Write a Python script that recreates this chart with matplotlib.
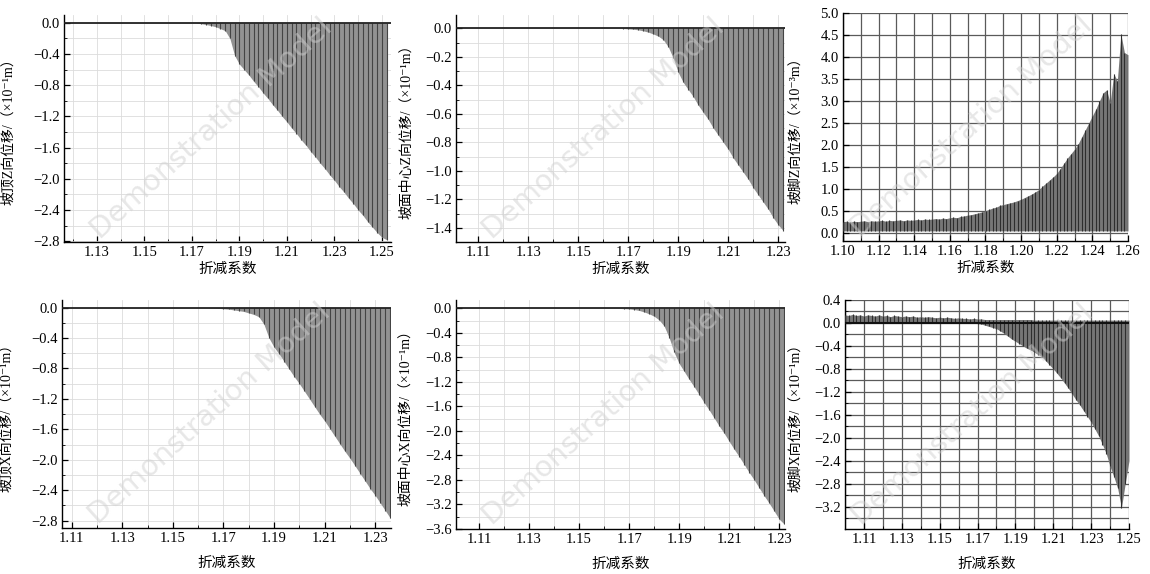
import numpy as np
import matplotlib.pyplot as plt
from matplotlib.ticker import MultipleLocator, FixedLocator, FuncFormatter

plt.rcParams['font.family'] = ['Liberation Serif', 'Noto Sans CJK SC', 'DejaVu Sans']

W, H = 1150, 574

# 坡顶Z向位移 (top left), spikes every 0.002 from 1.172
x1_rng = (1.172, 1.252)
y1 = [-0.005, -0.012, -0.022, -0.035, -0.05, -0.075, -0.10, -0.20, -0.42, -0.53,
      -0.60, -0.67, -0.75, -0.82, -0.90, -0.97, -1.05, -1.12, -1.20, -1.27,
      -1.35, -1.42, -1.50, -1.57, -1.65, -1.72, -1.80, -1.87, -1.95, -2.02,
      -2.10, -2.17, -2.25, -2.32, -2.40, -2.47, -2.55, -2.62, -2.69, -2.75, -2.78]
xt1 = [1.13, 1.15, 1.17, 1.19, 1.21, 1.23, 1.25]

# 坡面中心Z向位移 (top middle)
x2_rng = (1.168, 1.232)
y2 = [-0.002, -0.004, -0.007, -0.011, -0.018, -0.027, -0.04, -0.055, -0.08, -0.13,
      -0.21, -0.31, -0.38, -0.43, -0.48, -0.54, -0.59, -0.64, -0.70, -0.75,
      -0.80, -0.85, -0.91, -0.96, -1.01, -1.06, -1.12, -1.17, -1.22, -1.27,
      -1.33, -1.38, -1.42]
xt2 = [1.11, 1.13, 1.15, 1.17, 1.19, 1.21, 1.23]

# 坡脚Z向位移 (top right): upper ends of the oscillation
x3_rng = (1.100, 1.260)
y3 = [0.25, 0.26, 0.24, 0.26, 0.25, 0.26, 0.27, 0.25, 0.27, 0.26,
      0.27, 0.28, 0.26, 0.28, 0.27, 0.28, 0.29, 0.27, 0.29, 0.28,
      0.29, 0.30, 0.29, 0.31, 0.30, 0.31, 0.32, 0.31, 0.33, 0.32,
      0.34, 0.35, 0.34, 0.37, 0.38, 0.40, 0.41, 0.43, 0.45, 0.47,
      0.50, 0.53, 0.56, 0.58, 0.62, 0.64, 0.66, 0.68, 0.70, 0.73,
      0.76, 0.80, 0.84, 0.88, 0.93, 0.98, 1.06, 1.13, 1.20, 1.27,
      1.35, 1.46, 1.58, 1.70, 1.80, 1.90, 2.02, 2.18, 2.34, 2.50,
      2.66, 2.82, 3.00, 3.18, 3.25, 2.95, 3.62, 3.45, 4.52, 4.10,
      4.05]
base3 = 0.04
xt3 = [1.10, 1.12, 1.14, 1.16, 1.18, 1.20, 1.22, 1.24, 1.26]

# 坡顶X向位移 (bottom left)
x4_rng = (1.164, 1.236)
y4 = [-0.003, -0.006, -0.010, -0.015, -0.02, -0.03, -0.04, -0.05, -0.07, -0.09,
      -0.12, -0.22, -0.40, -0.52, -0.61, -0.71, -0.81, -0.91, -1.00, -1.10,
      -1.20, -1.30, -1.40, -1.49, -1.59, -1.69, -1.79, -1.89, -1.98, -2.08,
      -2.18, -2.28, -2.38, -2.47, -2.57, -2.67, -2.77]
xt4 = [1.11, 1.13, 1.15, 1.17, 1.19, 1.21, 1.23]

# 坡面中心X向位移 (bottom middle)
x5_rng = (1.166, 1.232)
y5 = [-0.003, -0.006, -0.01, -0.02, -0.035, -0.06, -0.09, -0.13, -0.19, -0.29,
      -0.48, -0.72, -0.90, -1.03, -1.16, -1.28, -1.41, -1.54, -1.66, -1.79,
      -1.92, -2.04, -2.17, -2.30, -2.42, -2.55, -2.68, -2.80, -2.93, -3.06,
      -3.18, -3.31, -3.44, -3.52]
xt5 = [1.11, 1.13, 1.15, 1.17, 1.19, 1.21, 1.23]

# 坡脚X向位移 (bottom right): upper and lower ends of the oscillation
x6_rng = (1.100, 1.250)
hi6 = [0.14, 0.13, 0.15, 0.13, 0.14, 0.12, 0.14, 0.13, 0.12, 0.14,
       0.12, 0.13, 0.11, 0.13, 0.12, 0.11, 0.12, 0.11, 0.12, 0.10,
       0.11, 0.10, 0.11, 0.10, 0.09, 0.10, 0.09, 0.10, 0.09, 0.08,
       0.09, 0.08, 0.08, 0.07, 0.08, 0.07, 0.07, 0.06, 0.06, 0.06,
       0.06, 0.06, 0.06, 0.06, 0.06, 0.06, 0.06, 0.06, 0.06, 0.06,
       0.05, 0.05, 0.05, 0.05, 0.05, 0.05, 0.05, 0.05, 0.05, 0.05,
       0.05, 0.05, 0.05, 0.05, 0.05, 0.05, 0.05, 0.05, 0.05, 0.05,
       0.05, 0.05, 0.05, 0.05, 0.05, 0.05]
lo6 = [0.0, 0.0, 0.0, 0.0, 0.0, 0.0, 0.0, 0.0, 0.0, 0.0,
       0.0, 0.0, 0.0, 0.0, 0.0, 0.0, 0.0, 0.0, 0.0, 0.0,
       0.0, 0.0, 0.0, 0.0, 0.0, 0.0, 0.0, 0.0, 0.0, 0.0,
       0.0, 0.0, 0.0, 0.0, 0.0, -0.01, -0.02, -0.04, -0.06, -0.08,
       -0.10, -0.14, -0.18, -0.23, -0.28, -0.32, -0.36, -0.40, -0.44, -0.47,
       -0.51, -0.55, -0.59, -0.66, -0.73, -0.80, -0.88, -0.96, -1.05, -1.14,
       -1.24, -1.34, -1.43, -1.53, -1.63, -1.73, -1.85, -1.97, -2.12, -2.28,
       -2.50, -2.68, -2.88, -3.22, -2.80, -2.40]
xt6 = [1.11, 1.13, 1.15, 1.17, 1.19, 1.21, 1.23, 1.25]

xlab = '折减系数'
ylabs = ['坡顶Z向位移/（×10⁻¹m）', '坡面中心Z向位移/（×10⁻¹m）', '坡脚Z向位移/（×10⁻³m）',
         '坡顶X向位移/（×10⁻¹m）', '坡面中心X向位移/（×10⁻¹m）', '坡脚X向位移/（×10⁻¹m）']


def fmt(v, pos):
    s = '%.1f' % v
    if s == '-0.0':
        s = '0.0'
    return s.replace('-', '\u2212')


fig = plt.figure(figsize=(W / 100, H / 100), dpi=100)


def make_ax(box, xlim, ylim, xt, ymaj, ymin, ylab, ylab_off, xlab_off, dark=False):
    l, r, t, b = box
    ax = fig.add_axes([l / W, 1 - b / H, (r - l) / W, (b - t) / H])
    ax.set_xlim(*xlim)
    ax.set_ylim(*ylim)
    ax.xaxis.set_major_locator(FixedLocator(xt))
    ax.xaxis.set_minor_locator(MultipleLocator(0.01))
    ax.xaxis.set_major_formatter(FuncFormatter(lambda v, p: '%.2f' % v))
    ax.yaxis.set_major_locator(MultipleLocator(ymaj))
    ax.yaxis.set_minor_locator(MultipleLocator(ymin))
    ax.yaxis.set_major_formatter(FuncFormatter(fmt))
    if dark:
        ax.grid(True, which='both', color='#5a5a5a', lw=0.9, zorder=0)
    else:
        ax.grid(True, which='both', color='#dcdcdc', lw=0.6, zorder=0)
    ax.set_axisbelow(True)
    for s in ['top', 'right']:
        ax.spines[s].set_visible(False)
    for s in ['left', 'bottom']:
        ax.spines[s].set_linewidth(1.0)
    ax.tick_params(which='major', direction='in', length=4, width=0.9, labelsize=10.5, pad=3)
    ax.tick_params(which='minor', direction='in', length=2, width=0.6)
    ax.set_ylabel(ylab, fontsize=10)
    ax.yaxis.set_label_coords(-ylab_off / (r - l), 0.5)
    ax.set_xlabel(xlab, fontsize=10.5)
    ax.xaxis.set_label_coords(0.5, -xlab_off / (b - t))
    ax.text(0.45, 0.5, 'Demonstration Model', transform=ax.transAxes, rotation=42,
            ha='center', va='center', fontsize=21, family='DejaVu Sans',
            color='#cfcfcf', alpha=0.5, zorder=10)
    return ax


def spikes(ax, rng, lo, hi, fill, line):
    x = np.linspace(rng[0], rng[1], len(hi))
    ax.fill_between(x, lo, hi, color=fill, lw=0, zorder=2)
    ax.vlines(x, lo, hi, color=line, lw=0.8, zorder=3)


ax1 = make_ax((64, 391, 15, 242), (1.1162, 1.2538), (-2.81, 0.10), xt1, 0.4, 0.2,
              ylabs[0], 49, 21)
ax1.axhline(0, color='#222222', lw=1.3, zorder=4)
spikes(ax1, x1_rng, 0, y1, '#929292', '#444444')

ax2 = make_ax((456, 785, 15, 242), (1.1011, 1.2327), (-1.50, 0.093), xt2, 0.2, 0.1,
              ylabs[1], 43, 21)
ax2.axhline(0, color='#222222', lw=1.3, zorder=4)
spikes(ax2, x2_rng, 0, y2, '#929292', '#444444')

ax3 = make_ax((843, 1128, 13, 241), (1.10, 1.26), (-0.19, 5.0), xt3, 0.5, 0.5,
              ylabs[2], 41, 21, dark=True)
spikes(ax3, x3_rng, base3, y3, '#767676', '#2e2e2e')

ax4 = make_ax((62, 391, 300, 528), (1.1062, 1.2362), (-2.896, 0.10), xt4, 0.4, 0.2,
              ylabs[3], 49, 29)
ax4.axhline(0, color='#222222', lw=1.3, zorder=4)
spikes(ax4, x4_rng, 0, y4, '#929292', '#444444')

ax5 = make_ax((456, 785, 300, 529), (1.1008, 1.2323), (-3.60, 0.135), xt5, 0.4, 0.2,
              ylabs[4], 44, 29)
ax5.axhline(0, color='#222222', lw=1.3, zorder=4)
spikes(ax5, x5_rng, 0, y5, '#929292', '#444444')

ax6 = make_ax((845, 1129, 300, 529), (1.10, 1.25), (-3.59, 0.40), xt6, 0.4, 0.2,
              ylabs[5], 43, 29, dark=True)
spikes(ax6, x6_rng, lo6, hi6, '#767676', '#2e2e2e')
ax6.axhline(0, color='#111111', lw=1.5, zorder=4)

fig.savefig('out.png', dpi=100)
